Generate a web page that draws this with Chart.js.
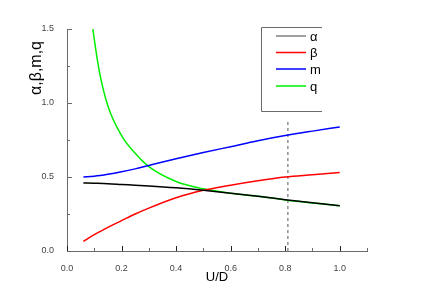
<!DOCTYPE html>
<html>
<head>
<meta charset="utf-8">
<script src="https://cdn.jsdelivr.net/npm/chart.js@4"></script>
<style>
  html, body { margin: 0; padding: 0; background: #fff; }
  #wrap { width: 436px; height: 306px; }
</style>
</head>
<body>
<div id="wrap"><canvas id="c" width="436" height="306"></canvas></div>
<script>
// ==================== DATA ====================
const uD     = [0.06, 0.1, 0.15, 0.2, 0.25, 0.3, 0.4, 0.5, 0.6, 0.7, 0.8, 0.9, 1.0];
const alpha  = [0.46, 0.458, 0.455, 0.45, 0.445, 0.44, 0.427, 0.41, 0.39, 0.37, 0.347, 0.326, 0.306];
const beta   = [0.065, 0.11, 0.16, 0.205, 0.25, 0.29, 0.36, 0.41, 0.445, 0.475, 0.50, 0.515, 0.53];
const mVals  = [0.50, 0.505, 0.518, 0.535, 0.555, 0.578, 0.623, 0.665, 0.705, 0.745, 0.78, 0.81, 0.838];
const qX     = [0.095, 0.1, 0.12, 0.15, 0.2, 0.25, 0.3, 0.4, 0.5, 0.6, 0.7, 0.8, 0.9, 1.0];
const qVals  = [1.5, 1.43, 1.2, 0.98, 0.78, 0.66, 0.57, 0.47, 0.42, 0.39, 0.37, 0.345, 0.325, 0.306];
const markX  = 0.81;
const markY  = [0.0, 0.885];

const xLabels = ["0.0", "0.2", "0.4", "0.6", "0.8", "1.0"];
const yLabels = ["0.0", "0.5", "1.0", "1.5"];

const FONT = "'Liberation Sans', Arial, sans-serif";
const AXIS = "#6a6a6a";

const pts = (xs, ys) => xs.map((x, i) => ({ x, y: ys[i] }));
const series = (label, xs, ys, color, legendColor) => ({
  label, data: pts(xs, ys), borderColor: color, legendColor: legendColor || color,
  borderWidth: 1.5, pointRadius: 0, cubicInterpolationMode: "monotone", fill: false
});

// ==================== PLUGINS ====================
const decor = {
  id: "decor",
  afterDraw(chart) {
    const ctx = chart.ctx, xs = chart.scales.x, ys = chart.scales.y;
    const bottom = ys.getPixelForValue(0), left = xs.getPixelForValue(0);
    ctx.save();
    ctx.lineWidth = 1;
    // inward ticks on x
    for (let i = 0; i <= 11; i++) {
      const px = Math.round(xs.getPixelForValue(i / 10)) + 0.5;
      const major = i % 2 === 0 && i <= 10;
      ctx.strokeStyle = major ? "#222" : AXIS;
      ctx.beginPath(); ctx.moveTo(px, bottom); ctx.lineTo(px, bottom - (major ? 5 : 3)); ctx.stroke();
    }
    // inward ticks on y
    for (let i = 0; i <= 6; i++) {
      const py = Math.round(ys.getPixelForValue(i * 0.25)) + 0.5;
      const major = i % 2 === 0;
      ctx.strokeStyle = AXIS;
      ctx.beginPath(); ctx.moveTo(left, py); ctx.lineTo(left + (major ? 5 : 3), py); ctx.stroke();
    }
    // axis titles
    ctx.fillStyle = "#000";
    ctx.font = "13px " + FONT;
    ctx.textAlign = "center"; ctx.textBaseline = "middle";
    ctx.fillText("U/D", 217, 277);
    ctx.translate(37, 68); ctx.rotate(-Math.PI / 2);
    ctx.font = "16px " + FONT;
    ctx.fillText("α,β,m,q", 0, 0);
    ctx.restore();

    // legend box (top, left, bottom edges only)
    ctx.save();
    ctx.strokeStyle = AXIS; ctx.lineWidth = 1;
    ctx.beginPath();
    ctx.moveTo(322, 27.5); ctx.lineTo(261.5, 27.5); ctx.lineTo(261.5, 111.5); ctx.lineTo(322, 111.5);
    ctx.stroke();
    ctx.font = "13px " + FONT; ctx.textAlign = "left"; ctx.textBaseline = "middle";
    const rows = [36, 52.5, 69, 86];
    chart.data.datasets.filter(d => d.label).forEach((d, i) => {
      ctx.strokeStyle = d.legendColor; ctx.lineWidth = 1.5;
      ctx.beginPath(); ctx.moveTo(276, rows[i]); ctx.lineTo(306, rows[i]); ctx.stroke();
      ctx.fillStyle = "#000";
      ctx.fillText(d.label, 310, rows[i] + 1);
    });
    ctx.restore();
  }
};

// ==================== CHART ====================
new Chart(document.getElementById("c"), {
  type: "line",
  data: {
    datasets: [
      series("α", uD, alpha, "#000000", "#808080"),
      series("β", uD, beta, "#ff0000"),
      series("m", uD, mVals, "#0000ff"),
      series("q", qX, qVals, "#00ee00"),
      { label: "", data: pts([markX, markX], markY), borderColor: "#555", borderWidth: 1,
        borderDash: [3, 3], pointRadius: 0, fill: false }
    ]
  },
  options: {
    responsive: false,
    animation: false,
    layout: { padding: { top: 29, right: 69, left: 0, bottom: 0 } },
    plugins: { legend: { display: false }, tooltip: { enabled: false } },
    scales: {
      x: {
        type: "linear", min: 0, max: 1.1,
        afterFit: s => { s.height = 55; },
        grid: { display: false },
        border: { display: true, color: AXIS, width: 1 },
        ticks: {
          stepSize: 0.1, autoSkip: false, padding: 4, maxRotation: 0,
          color: "#444", font: { size: 9, family: FONT },
          callback: v => xLabels.find(l => Math.abs(parseFloat(l) - v) < 1e-6) || ""
        }
      },
      y: {
        type: "linear", min: 0, max: 1.5,
        afterFit: s => { s.width = 67; },
        grid: { display: false },
        border: { display: true, color: AXIS, width: 1 },
        ticks: {
          stepSize: 0.25, autoSkip: false, padding: 5,
          color: "#444", font: { size: 9, family: FONT },
          callback: v => yLabels.find(l => Math.abs(parseFloat(l) - v) < 1e-6) || ""
        }
      }
    }
  },
  plugins: [decor]
});
</script>
</body>
</html>
